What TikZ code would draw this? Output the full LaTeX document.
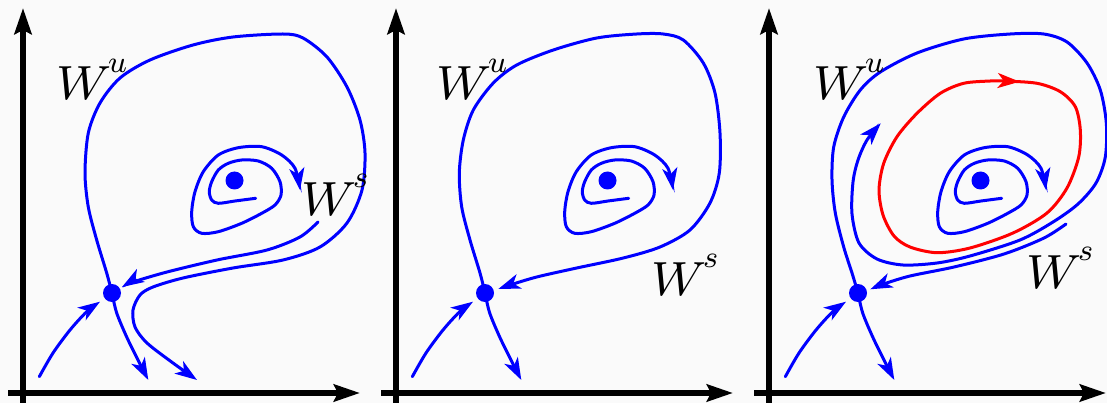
\documentclass[tikz,border=0pt]{standalone}
\usepackage{graphicx}
\usetikzlibrary{arrows.meta,decorations.markings}
\definecolor{bgc}{RGB}{250,250,250}
\newcommand\manif[1]{$W$\kern-0.07em\raisebox{0.58em}{\scalebox{0.64}{$#1$}}}
\tikzset{
  axis/.style={black, line width=6.5pt, -{Stealth[length=26pt,width=17pt,inset=4pt]}},
  curve/.style={blue, line width=3pt, line cap=round},
  tipend/.style={-{Stealth[length=22pt,width=15pt,inset=6pt]}},
  dot/.style={circle, fill=blue, inner sep=0pt, minimum size=18pt},
  lab/.style={anchor=base west, inner sep=0pt, font=\footnotesize, scale=6.0},
  midarrow/.style={decoration={markings, mark=at position #1 with {\arrow{Stealth[length=22pt,width=15pt,inset=6pt]}}}, postaction={decorate}},
}
\newcommand\panelbase{%
  \draw[axis] (23,403) -- (23,8);
  \draw[axis] (8,393) -- (360,393);
  \draw[curve,tipend] plot[smooth] coordinates {(255.7,198.3) (235,201) (218.3,203.3) (211.7,200) (209.3,191.7) (211.7,181.7) (218.3,170) (228.3,163.3) (241.7,160) (258.3,161) (271.7,168.3) (280,181.7) (281,195) (275,205) (261.7,213.3) (241.7,223.3) (218.3,231.7) (201.7,233.3) (193.3,226.7) (191.7,211.7) (195,191.7) (203.3,171.7) (218.3,155) (238.3,147.7) (261.7,146.7) (281.7,155) (295,168.3) (300,190)};
  \draw[curve,tipend] plot[smooth] coordinates {(39.3,376.7) (53,353) (70,330) (86.7,311.7) (100,301.7)};
  \draw[curve,tipend] plot[smooth] coordinates {(112,293) (116.7,313) (126.7,337) (138,360) (148.3,380)};
}
\newcommand\paneldots[1]{%
  \node[dot] (s#1) at (112,293) {};
  \node[dot] (c#1) at (234.5,180.5) {};
}
\begin{document}
\begin{tikzpicture}[x=1pt,y=-1pt]
\fill[bgc] (0,0) rectangle (1107,403);
\useasboundingbox (0,0) rectangle (1107,403);
% panel 1
\begin{scope}
  \panelbase
  \draw[curve,tipend] plot[smooth] coordinates {(112,293) (106.7,273) (96.7,240) (88.3,207) (85,173) (88.3,133) (100,103) (120,78) (150,60) (193,45) (233,37) (283,34) (303,38) (327,57) (347,87) (360,120) (365,153) (362,190) (347,223) (320,247) (283,260) (233,268) (183,278) (153,287) (140,295) (133,310) (135,327) (147,343) (173,363) (197,380)};
  \draw[curve,tipend] plot[smooth] coordinates {(318,222) (300,237) (267,250) (217,260) (167,272) (133,282) (122,287)};
  \paneldots{1}
  \node[lab] (wu1) at (55,100) {\manif{u}};
  \node[lab] (ws1) at (300,215) {\manif{s}};
\end{scope}
% panel 2
\begin{scope}[xshift=373pt]
  \panelbase
  \draw[curve,tipend] plot[smooth] coordinates {(112,293) (107,273) (97,240) (88.7,207) (86.3,173) (90.3,140) (100.3,110) (120.3,83) (143.7,65) (180.3,50) (223.7,38) (263.7,34) (290.3,34) (310.3,40) (330.3,63) (342,93) (347,133) (346.3,173) (337,203) (317,230) (287,247) (250.3,258) (203.7,268) (163.7,277) (137,285) (125.3,289)};
  \paneldots{2}
  \node[lab] (wu2) at (62,100) {\manif{u}};
  \node[lab] (ws2) at (277,295) {\manif{s}};
\end{scope}
% panel 3
\begin{scope}[xshift=746pt]
  \panelbase
  \draw[red, line width=3pt, midarrow=16pt] plot[smooth cycle] coordinates {(244.3,81) (257.7,81) (291,83.3) (314.3,91.7) (329.3,106.7) (334.3,130) (332.7,157) (321,188) (301,213) (267,233) (224,248) (191,252.7) (164,247) (148,236) (137,215) (133,190) (137.7,163.3) (151,136.7) (171,113.3) (194.3,93.3) (217.7,83.3)};
  \draw[curve,tipend] plot[smooth] coordinates {(112,293) (106,273) (97.7,247) (89.3,213) (86,180) (87.7,147) (97.7,117) (114.3,90) (134.3,72) (171,53) (217.7,39) (264.3,34) (297.7,34) (321,42) (341,63) (354.3,90) (360.3,123) (359.3,157) (350,183) (332,204) (307,222) (274,240) (224,256) (191,263) (157,265) (131,259) (113,243) (106,214) (107,182) (112,160) (121,140) (134.7,123.3)};
  \draw[curve,tipend] plot[smooth] coordinates {(320,224) (298,238) (258,254) (208,267) (164,276) (137.7,284) (124.3,289.3)};
  \paneldots{3}
  \node[lab] (wu3) at (66,100) {\manif{u}};
  \node[lab] (ws3) at (279,288) {\manif{s}};
\end{scope}
\end{tikzpicture}
\end{document}
